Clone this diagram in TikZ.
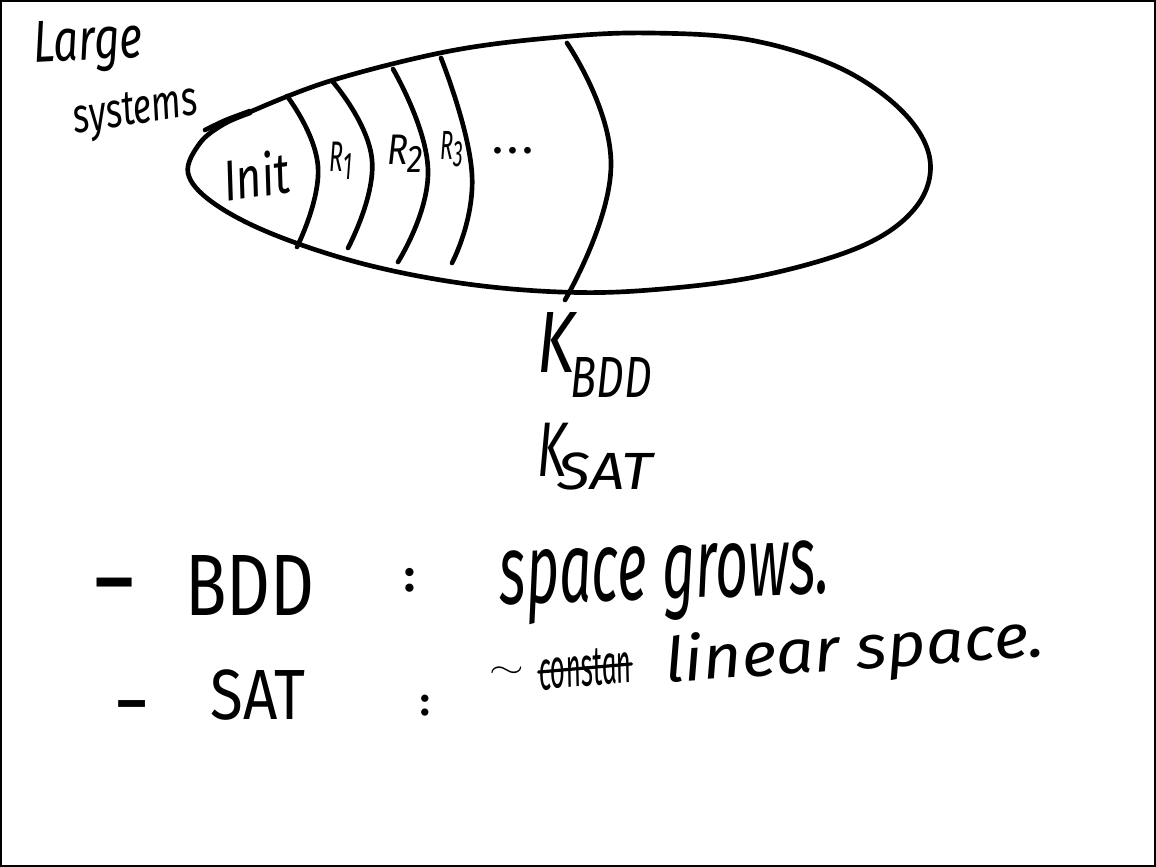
\documentclass[tikz,border=0pt]{standalone}
\usepackage{fontspec}
\setmainfont{Fira Sans}
\usepackage{graphicx}
\newcommand{\fb}[3]{\resizebox*{#1pt}{#2pt}{#3}}
\newcommand{\fs}[2]{{\fontsize{#1pt}{#1pt}\selectfont\bfseries #2}}
\tikzset{
  pen/.style={line width=3.5pt, line cap=round, line join=round},
  hand/.style={inner sep=0pt, outer sep=0pt, anchor=center},
  frame/.style={line width=1.2pt}
}
\begin{document}
\begin{tikzpicture}[x=0.75pt,y=-0.75pt]
\useasboundingbox (0,0) rectangle (1156,867);
\draw[frame] (1,1) rectangle (1155,866);

% egg-shaped outline
\draw[pen] plot[smooth, tension=0.6] coordinates {
  (250,112) (330,81) (450,51) (560,37) (650,33) (750,40) (840,68) (903,112)
  (930,160) (916,207) (862,246) (760,276) (650,290) (560,292) (460,283)
  (360,263) (270,233) (212,202) (188,173) (200,143) (224,124) (250,113)};
\draw[pen] plot[smooth] coordinates {(205,130) (226,120) (250,111)};

% region boundaries
\draw[pen] plot[smooth, tension=0.8] coordinates {(287,96) (318,167) (297,247)};
\draw[pen] plot[smooth, tension=0.8] coordinates {(333,82) (372,160) (348,248)};
\draw[pen] plot[smooth, tension=0.8] coordinates {(393,69) (428,170) (398,262)};
\draw[pen] plot[smooth, tension=0.8] coordinates {(441,58) (472,175) (452,263)};
\draw[pen] plot[smooth, tension=0.8] coordinates {(567,43) (611,165) (565,300)};

% labels inside
\node[hand, rotate=8] (init) at (256,175) {\fb{50}{34}{\itshape Init}};
\node[hand] (r1) at (341,161) {\fb{17}{28}{\itshape R\raisebox{-0.35ex}{\small 1}}};
\node[hand] (r2) at (405,154) {\fb{27}{28}{\itshape R\raisebox{-0.35ex}{\small 2}}};
\node[hand] (r3) at (452,149) {\fb{17}{27}{\itshape R\raisebox{-0.35ex}{\small 3}}};
\node[hand] (dots) at (513,151) {\fs{28}{.\,.\,.}};

% title
\node[hand, rotate=3] (large) at (88,46) {\fb{82}{40}{\itshape Large}};
\node[hand, rotate=9] (systems) at (136,113) {\fb{94}{32}{\itshape systems}};

% K labels
\node[hand] (kb) at (556,342) {\fb{28}{45}{\itshape K}};
\node[hand] (kbs) at (611,377) {\fb{61}{30}{\itshape BDD}};
\node[hand] (ks) at (552,450) {\fb{22}{40}{\itshape K}};
\node[hand] (kss) at (605,471) {\fb{71}{28}{\itshape SAT}};

% bottom lines
\node[hand] (d1) at (115,592) {\fs{55}{–}};
\node[hand] (bdd) at (250,585) {\fb{97}{45}{BDD}};
\node[hand] (c1) at (410,580) {\fs{34}{:}};
\node[hand, rotate=2] (grows) at (665,583) {\fb{247}{56}{\itshape space grows.}};

\node[hand] (d2) at (132,711) {\fs{42}{–}};
\node[hand] (sat) at (258,695) {\fb{71}{38}{SAT}};
\node[hand] (c2) at (425,706) {\fs{30}{:}};
\node[hand] (tilde) at (507,672) {\fb{26}{8}{$\sim$}};
\node[hand, rotate=5] (const) at (585,668) {\fb{70}{28}{\itshape constan}};
\draw[pen, line width=2.4pt] (const.west) -- (const.east);
\node[hand, rotate=4] (lin) at (855,652) {\fb{285}{46}{\itshape linear space.}};
\end{tikzpicture}
\end{document}
